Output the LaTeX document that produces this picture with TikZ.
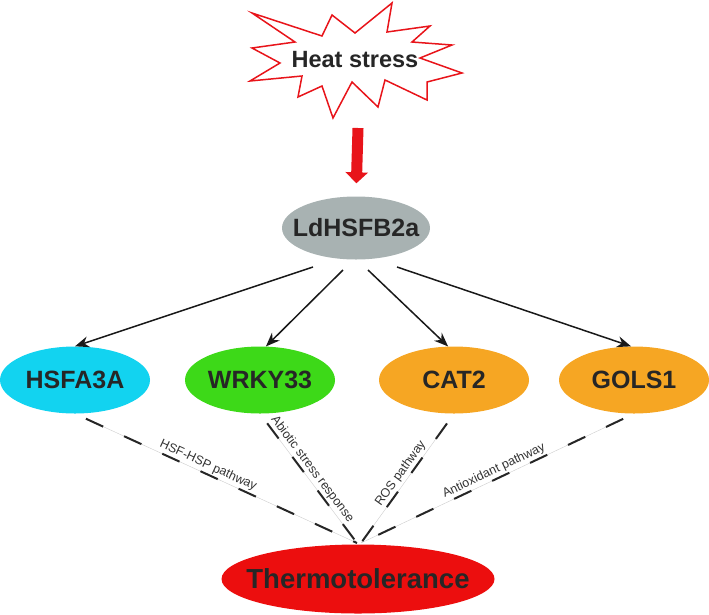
\documentclass[tikz,border=0pt]{standalone}
\usepackage{fontspec}
\setmainfont{Liberation Sans}
\usetikzlibrary{arrows.meta,positioning,shapes.geometric}
\definecolor{burstred}{RGB}{232,20,26}
\definecolor{hubgray}{RGB}{168,178,178}
\definecolor{hsfcyan}{RGB}{18,211,240}
\definecolor{wrkygreen}{RGB}{61,217,24}
\definecolor{geneorange}{RGB}{246,166,35}
\definecolor{thermored}{RGB}{236,14,14}
\tikzset{
  >={Stealth[length=14pt,width=11pt]},
  gene/.style={ellipse, draw=none, inner xsep=-12pt, minimum width=150pt, minimum height=67pt, font=\fontsize{25}{28}\selectfont\bfseries, text=black!85},
  hub/.style={ellipse, fill=hubgray, inner xsep=-14pt, minimum width=148pt, minimum height=63pt, font=\fontsize{25}{28}\selectfont\bfseries, text=black!85},
  regarrow/.style={->, line width=1.5pt, black!90},
  pathline/.style={line width=2pt, black!85, dash pattern=on 19pt off 23pt, shorten <=12pt},
  faintline/.style={line width=0.4pt, black!20, shorten <=12pt},
  pathlabel/.style={sloped, inner sep=1.5pt, font=\fontsize{12.5}{14}\selectfont, text=black!80},
}
\begin{document}
\begin{tikzpicture}[x=1pt, y=-1pt]
  \useasboundingbox (0,0) rectangle (709,614);
  % the heat burst
  \draw[burstred, line width=1.5pt, fill=white, line join=miter]
    (252,13) -- (322,36) -- (332,15) -- (355,33) -- (392,3) -- (387,32) -- (430,26)
    -- (412,42) -- (452,45) -- (420,58) -- (462,73) -- (427,82) -- (427,100) -- (385,80)
    -- (378,107) -- (352,82) -- (333,118) -- (322,86) -- (298,97) -- (302,76) -- (250,81)
    -- (280,63) -- (252,48) -- (295,42) -- cycle;
  \node[font=\fontsize{23.5}{26}\selectfont\bfseries, text=black!85] (heat) at (355,60) {Heat stress};
  \node[hub] (ld) at (356,228) {LdHSFB2a};
  \node[gene, fill=hsfcyan] (hsfa) at (75,380) {HSFA3A};
  \node[gene, fill=wrkygreen] (wrky) at (260,380) {WRKY33};
  \node[gene, fill=geneorange] (cat) at (454,380) {CAT2};
  \node[gene, fill=geneorange] (gols) at (634,380) {GOLS1};
  \node[ellipse, fill=thermored, inner xsep=-30pt, minimum width=273pt, minimum height=69pt,
        font=\fontsize{27.5}{30}\selectfont\bfseries, text=black!85] (thermo) at (358,579) {Thermotolerance};
  % free ends of the connectors
  \coordinate (burstend) at (358,128);
  \coordinate (ldA) at (313,267);
  \coordinate (ldB) at (343,270);
  \coordinate (ldC) at (368,270);
  \coordinate (ldD) at (397,267);
  \coordinate (meetl) at (357,543);
  \coordinate (meetr) at (361,543);

  \draw[burstred, line width=11pt, shorten >=13pt, -{Triangle[width=22pt,length=11pt]}] (burstend) -- (ld.north);
  \draw[regarrow] (ldA) -- (hsfa.north);
  \draw[regarrow] (ldB) -- (wrky.80);
  \draw[regarrow] (ldC) -- (cat.100);
  \draw[regarrow] (ldD) -- (gols.95);

  \draw[faintline] (hsfa.south) -- (meetl);
  \draw[faintline] (wrky.south) -- (meetl);
  \draw[faintline] (cat.south) -- (meetr);
  \draw[faintline] (gols.south) -- (meetr);
  \draw[pathline] (hsfa.south) -- node[pathlabel, above, pos=0.46] {HSF-HSP pathway} (meetl);
  \draw[pathline] (wrky.south) -- node[pathlabel, above, pos=0.47] {Abiotic stress response} (meetl);
  \draw[pathline] (cat.south) -- node[pathlabel, above, pos=0.5] {ROS pathway} (meetr);
  \draw[pathline] (gols.south) -- node[pathlabel, above, pos=0.5] {Antioxidant pathway} (meetr);
\end{tikzpicture}
\end{document}
